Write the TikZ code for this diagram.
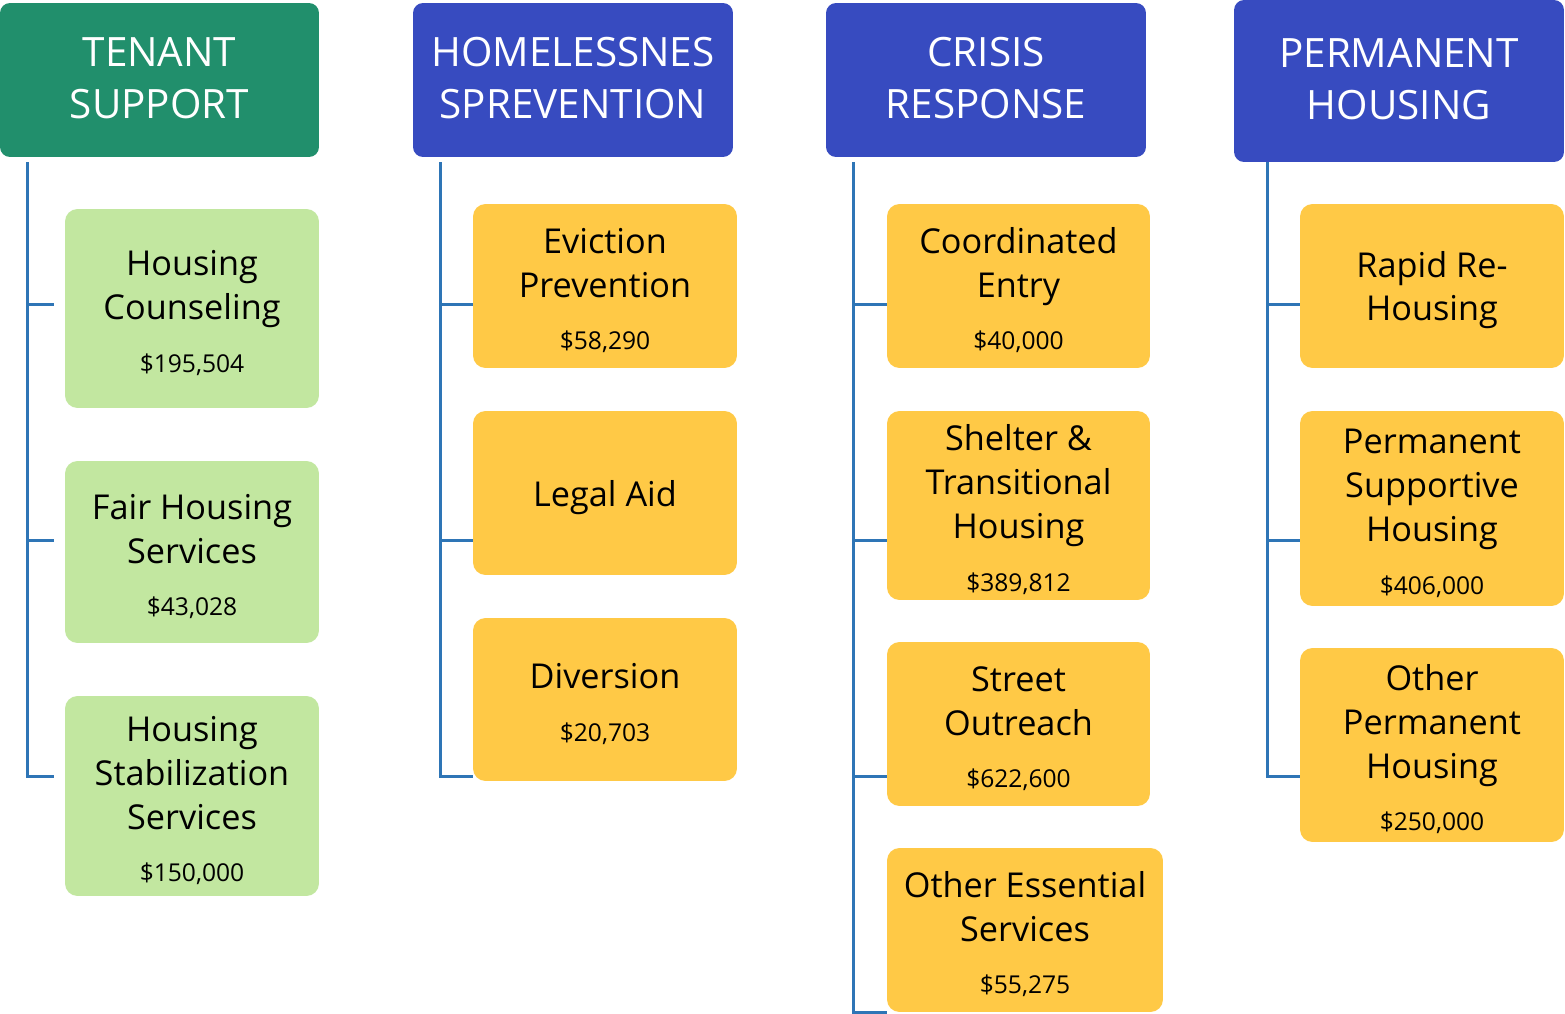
\documentclass[tikz,border=0pt]{standalone}
\usepackage{fontspec}
\setmainfont{Open Sans}
\usepackage{tikz}
\definecolor{hdrgreen}{RGB}{33,143,108}
\definecolor{hdrblue}{RGB}{55,75,192}
\definecolor{boxgreen}{RGB}{194,231,160}
\definecolor{boxyellow}{RGB}{255,201,70}
\definecolor{linkblue}{RGB}{46,117,182}
\newcommand{\hdrfont}{\fontsize{23}{29.5}\selectfont}
\newcommand{\boxfont}{\fontsize{19.5}{25}\selectfont}
\newcommand{\amt}[1]{{\fontsize{14}{18}\selectfont\$#1}}
\newcommand{\hdrlow}{\rule[-2.3pt]{0pt}{2.3pt}}
\newcommand{\topbox}{\rule{0pt}{19.5pt}}
\tikzstyle{hdr} = [fill=hdrblue, text=white, rounded corners=0.2cm, align=center, font=\hdrfont, inner sep=0pt]
\tikzstyle{subbox} = [fill=boxyellow, text=black, rounded corners=0.25cm, align=center, font=\boxfont, inner sep=0pt]
\tikzstyle{link} = [draw=linkblue, line width=0.06cm]

\begin{document}
\begin{tikzpicture}[x=0.02cm,y=-0.02cm]
\useasboundingbox (0,0) rectangle (1565,1014);
% headers
\node[hdr, fill=hdrgreen, minimum width=6.38cm, minimum height=3.08cm] (tenant) at (159.5,80) {TENANT\\SUPPORT\hdrlow};
\node[hdr, minimum width=6.4cm, minimum height=3.08cm] (prevent) at (573,80) {HOMELESSNES\\SPREVENTION\hdrlow};
\node[hdr, minimum width=6.4cm, minimum height=3.08cm] (crisis) at (986,80) {CRISIS\\RESPONSE\hdrlow};
\node[hdr, minimum width=6.6cm, minimum height=3.24cm] (permhouse) at (1399,81) {PERMANENT\\HOUSING\hdrlow};
% tenant support
\node[subbox, fill=boxgreen, minimum width=5.08cm, minimum height=3.98cm] (hcoun) at (192,308.5) {\topbox Housing\\Counseling\\[5pt]\amt{195,504}};
\node[subbox, fill=boxgreen, minimum width=5.08cm, minimum height=3.64cm] (fairh) at (192,552) {\topbox Fair Housing\\Services\\[5pt]\amt{43,028}};
\node[subbox, fill=boxgreen, minimum width=5.08cm, minimum height=4cm] (hstab) at (192,796) {\topbox Housing\\Stabilization\\Services\\[5pt]\amt{150,000}};
% homelessness prevention
\node[subbox, minimum width=5.28cm, minimum height=3.28cm] (evict) at (605,286) {\topbox Eviction\\Prevention\\[5pt]\amt{58,290}};
\node[subbox, minimum width=5.28cm, minimum height=3.28cm] (legal) at (605,493) {\topbox Legal Aid};
\node[subbox, minimum width=5.28cm, minimum height=3.26cm] (divers) at (605,699.5) {\topbox Diversion\\[5pt]\amt{20,703}};
% crisis response
\node[subbox, minimum width=5.26cm, minimum height=3.28cm] (coord) at (1018.5,286) {\topbox Coordinated\\Entry\\[5pt]\amt{40,000}};
\node[subbox, minimum width=5.26cm, minimum height=3.78cm] (shelter) at (1018.5,505.5) {\topbox Shelter \&\\Transitional\\Housing\\[5pt]\amt{389,812}};
\node[subbox, minimum width=5.26cm, minimum height=3.28cm] (street) at (1018.5,724) {\topbox Street\\Outreach\\[5pt]\amt{622,600}};
\node[subbox, minimum width=5.52cm, minimum height=3.28cm] (othess) at (1025,930) {\topbox Other Essential\\Services\\[5pt]\amt{55,275}};
% permanent housing
\node[subbox, minimum width=5.28cm, minimum height=3.28cm] (rapid) at (1432,286) {\topbox Rapid Re-\\Housing};
\node[subbox, minimum width=5.28cm, minimum height=3.9cm] (psh) at (1432,508.5) {\topbox Permanent\\Supportive\\Housing\\[5pt]\amt{406,000}};
\node[subbox, minimum width=5.28cm, minimum height=3.88cm] (oph) at (1432,745) {\topbox Other\\Permanent\\Housing\\[5pt]\amt{250,000}};

% connectors
\coordinate (ts0) at (27,162);
\coordinate (hp0) at (440,162);
\coordinate (cr0) at (853,162);
\coordinate (ph0) at (1267,162);
\coordinate (r1) at (0,304);
\coordinate (r2) at (0,540);
\coordinate (r3) at (0,776);
\draw[link, shorten >=0.22cm] (ts0) |- (r1 -| hcoun.west);
\draw[link, shorten >=0.22cm] (ts0) |- (r2 -| fairh.west);
\draw[link, shorten >=0.22cm] (ts0) |- (r3 -| hstab.west);
\draw[link] (hp0) |- (r1 -| evict.west);
\draw[link] (hp0) |- (r2 -| legal.west);
\draw[link] (hp0) |- (r3 -| divers.west);
\draw[link] (cr0) |- (r1 -| coord.west);
\draw[link] (cr0) |- (r2 -| shelter.west);
\draw[link] (cr0) |- (r3 -| street.west);
\draw[link] (cr0) |- (othess.south west);
\draw[link] (ph0) |- (r1 -| rapid.west);
\draw[link] (ph0) |- (r2 -| psh.west);
\draw[link] (ph0) |- (r3 -| oph.west);
\end{tikzpicture}
\end{document}
